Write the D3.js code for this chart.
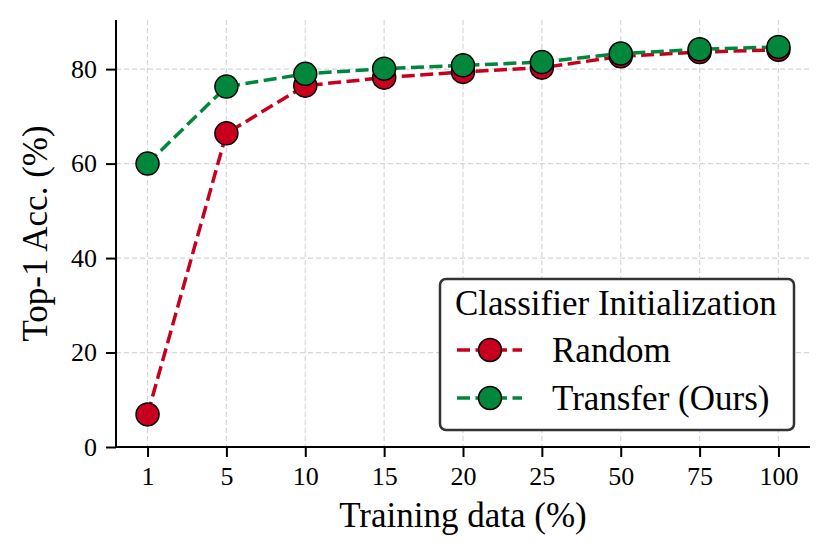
<!DOCTYPE html>
<html>
<head>
<meta charset="utf-8">
<script src="https://cdn.jsdelivr.net/npm/d3@7"></script>
<style>
  body { margin: 0; background: #fff; }
  svg { display: block; font-family: "Liberation Serif", "DejaVu Serif", serif; }
</style>
</head>
<body>
<div id="chart"></div>
<script>
// training data fractions
var trainingData = ["1", "5", "10", "15", "20", "25", "50", "75", "100"];
var randomAcc = [6.9, 66.4, 76.5, 78.2, 79.4, 80.3, 82.7, 83.6, 84.1];
var transferAcc = [60.0, 76.3, 79.0, 80.1, 80.8, 81.5, 83.3, 84.2, 84.7];
var yTicks = [0, 20, 40, 60, 80];

var series = [
  { name: "Random", values: randomAcc, color: "#c8001e" },
  { name: "Transfer (Ours)", values: transferAcc, color: "#00873c" }
];

var width = 832, height = 559;
var margin = { top: 20, right: 22, bottom: 112, left: 116 };
var w = width - margin.left - margin.right,
    h = height - margin.top - margin.bottom;

var svg = d3.select("#chart").append("svg")
  .attr("width", width)
  .attr("height", height);

var g = svg.append("g")
  .attr("transform", "translate(" + margin.left + "," + margin.top + ")");

var x = d3.scalePoint().domain(trainingData).range([0, w]).padding(0.4);
var y = d3.scaleLinear().domain([0, 90.4]).range([h, 0]);

// grid
var grid = g.append("g").attr("stroke", "#d6d6d6").attr("stroke-width", 1.2)
  .attr("stroke-dasharray", "5,3");
grid.selectAll(".gx").data(trainingData).enter().append("line")
  .attr("x1", function (d) { return x(d); })
  .attr("x2", function (d) { return x(d); })
  .attr("y1", 0).attr("y2", h);
grid.selectAll(".gy").data(yTicks.slice(1)).enter().append("line")
  .attr("x1", 0).attr("x2", w)
  .attr("y1", function (d) { return y(d); })
  .attr("y2", function (d) { return y(d); });

// axes
var xAxis = g.append("g")
  .attr("transform", "translate(0," + h + ")")
  .call(d3.axisBottom(x).tickSize(10).tickPadding(10));
var yAxis = g.append("g")
  .call(d3.axisLeft(y).tickValues(yTicks).tickSize(10).tickPadding(9));

[xAxis, yAxis].forEach(function (a) {
  a.select(".domain").attr("stroke", "#000").attr("stroke-width", 2);
  a.selectAll(".tick line").attr("stroke", "#000").attr("stroke-width", 2);
  a.selectAll(".tick text")
    .attr("fill", "#000")
    .attr("font-size", 26)
    .attr("font-family", "Liberation Serif, serif");
});
xAxis.select(".domain").attr("d", "M0,0H" + w);
yAxis.select(".domain").attr("d", "M0," + h + "V0");

// axis labels
svg.append("text")
  .attr("x", margin.left + w / 2)
  .attr("y", 527)
  .attr("text-anchor", "middle")
  .attr("font-size", 35)
  .text("Training data (%)");

svg.append("text")
  .attr("transform", "translate(47," + (margin.top + h / 2) + ") rotate(-90)")
  .attr("text-anchor", "middle")
  .attr("font-size", 35)
  .text("Top-1 Acc. (%)");

// series
var line = d3.line()
  .x(function (d, i) { return x(trainingData[i]); })
  .y(function (d) { return y(d); });

series.forEach(function (s) {
  g.append("path")
    .datum(s.values)
    .attr("d", line)
    .attr("fill", "none")
    .attr("stroke", s.color)
    .attr("stroke-width", 3.5)
    .attr("stroke-dasharray", "13,5.5");
  g.selectAll(null).data(s.values).enter().append("circle")
    .attr("cx", function (d, i) { return x(trainingData[i]); })
    .attr("cy", function (d) { return y(d); })
    .attr("r", 11.5)
    .attr("fill", s.color)
    .attr("stroke", "#000")
    .attr("stroke-width", 1.5);
});

// legend
var legend = svg.append("g");
legend.append("rect")
  .attr("x", 440).attr("y", 279)
  .attr("width", 354).attr("height", 151)
  .attr("rx", 6)
  .attr("fill", "#fff")
  .attr("stroke", "#333")
  .attr("stroke-width", 2.5);
legend.append("text")
  .attr("x", 455).attr("y", 315)
  .attr("font-size", 35)
  .text("Classifier Initialization");

series.forEach(function (s, i) {
  var ly = 350 + i * 48;
  legend.append("line")
    .attr("x1", 457).attr("x2", 522)
    .attr("y1", ly).attr("y2", ly)
    .attr("stroke", s.color)
    .attr("stroke-width", 3.5)
    .attr("stroke-dasharray", "13,5.5");
  legend.append("circle")
    .attr("cx", 490).attr("cy", ly)
    .attr("r", 11.5)
    .attr("fill", s.color)
    .attr("stroke", "#000")
    .attr("stroke-width", 1.5);
  legend.append("text")
    .attr("x", 552).attr("y", ly + 12)
    .attr("font-size", 35)
    .text(s.name);
});
</script>
</body>
</html>
